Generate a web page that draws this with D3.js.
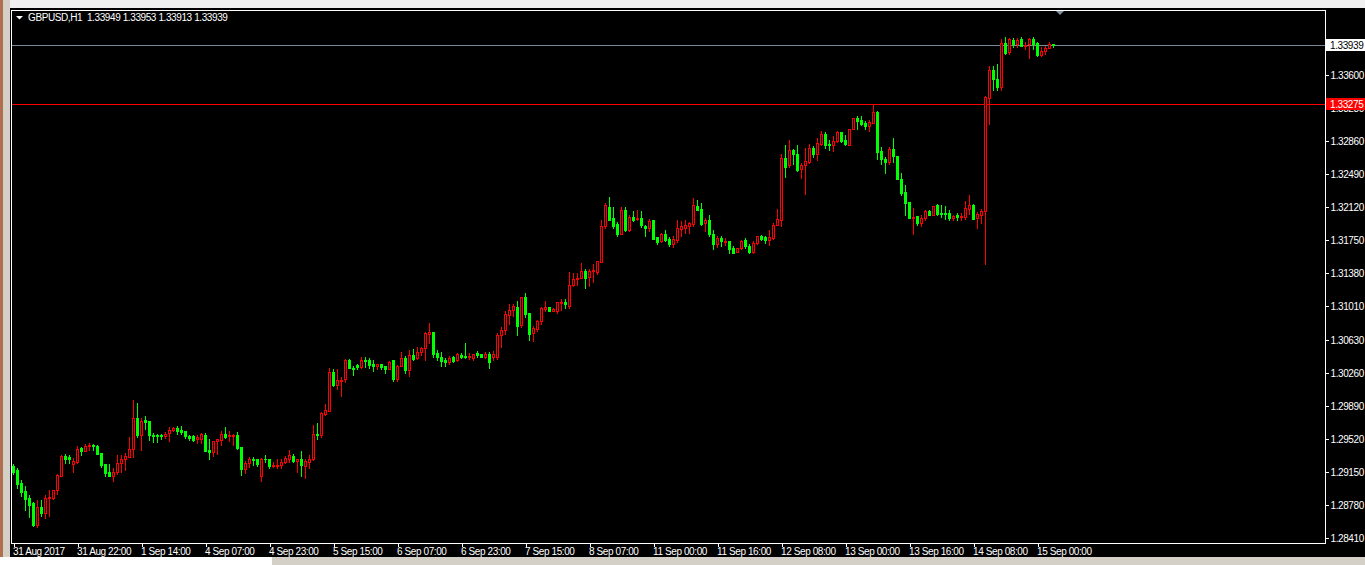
<!DOCTYPE html>
<html><head><meta charset="utf-8">
<script src="https://cdn.jsdelivr.net/npm/d3@7"></script>
<style>
html,body{margin:0;padding:0;background:#000;overflow:hidden;}
svg{display:block;}
text{font-family:"Liberation Sans",Arial,sans-serif;font-size:10px;letter-spacing:-0.4px;}
</style></head><body>
<svg id="c" width="1365" height="565"></svg>
<script>
const symbolTitle = "GBPUSD,H1";
const headerValues = ["1.33949", "1.33953", "1.33913", "1.33939"];

const open = [
1.2922,1.2917,1.2903,1.2894,1.2886,1.2880,1.2856,1.2876,1.2869,1.2886,
1.2886,1.2895,1.2911,1.2933,1.2932,1.2924,1.2926,1.2942,1.2938,1.2944,
1.2945,1.2944,1.2936,1.2924,1.2915,1.2910,1.2915,1.2925,1.2930,1.2932,
1.2941,1.2976,1.2956,1.2973,1.2972,1.2957,1.2956,1.2956,1.2955,1.2959,
1.2962,1.2964,1.2962,1.2961,1.2955,1.2955,1.2952,1.2952,1.2957,1.2940,
1.2937,1.2950,1.2951,1.2958,1.2955,1.2955,1.2956,1.2943,1.2918,1.2925,
1.2930,1.2929,1.2911,1.2930,1.2930,1.2922,1.2922,1.2923,1.2926,1.2930,
1.2933,1.2927,1.2929,1.2922,1.2926,1.2929,1.2958,1.2956,1.2980,1.2983,
1.3027,1.3012,1.3017,1.3019,1.3041,1.3032,1.3035,1.3033,1.3040,1.3040,
1.3036,1.3034,1.3036,1.3034,1.3030,1.3040,1.3019,1.3034,1.3043,1.3029,
1.3046,1.3043,1.3050,1.3054,1.3070,1.3072,1.3048,1.3044,1.3041,1.3038,
1.3044,1.3040,1.3046,1.3045,1.3044,1.3043,1.3048,1.3047,1.3044,1.3047,
1.3044,1.3044,1.3068,1.3074,1.3091,1.3097,1.3100,1.3080,1.3111,1.3093,
1.3071,1.3075,1.3084,1.3098,1.3100,1.3095,1.3096,1.3104,1.3106,1.3101,
1.3125,1.3131,1.3133,1.3140,1.3134,1.3140,1.3139,1.3150,1.3191,1.3212,
1.3200,1.3193,1.3182,1.3209,1.3186,1.3201,1.3199,1.3200,1.3191,1.3189,
1.3197,1.3178,1.3174,1.3182,1.3176,1.3171,1.3175,1.3187,1.3188,1.3191,
1.3193,1.3213,1.3210,1.3194,1.3197,1.3182,1.3171,1.3177,1.3173,1.3174,
1.3166,1.3162,1.3166,1.3175,1.3168,1.3162,1.3172,1.3179,1.3178,1.3175,
1.3177,1.3192,1.3198,1.3267,1.3259,1.3276,1.3272,1.3255,1.3259,1.3262,
1.3278,1.3272,1.3283,1.3294,1.3283,1.3281,1.3286,1.3296,1.3287,1.3282,
1.3300,1.3312,1.3309,1.3306,1.3303,1.3306,1.3318,1.3275,1.3266,1.3263,
1.3277,1.3269,1.3243,1.3229,1.3218,1.3200,1.3202,1.3194,1.3200,1.3208,
1.3203,1.3214,1.3205,1.3205,1.3205,1.3200,1.3203,1.3201,1.3201,1.3210,
1.3214,1.3200,1.3203,1.3207,1.3334,1.3366,1.3356,1.3347,1.3396,1.3386,
1.3399,1.3395,1.3400,1.3392,1.3395,1.3400,1.3396,1.3382,1.3387,1.3390,1.33949
];
const high = [
1.2924,1.2920,1.2906,1.2899,1.2889,1.2881,1.2884,1.2884,1.2889,1.2895,
1.2895,1.2913,1.2934,1.2935,1.2934,1.2931,1.2944,1.2943,1.2946,1.2948,
1.2946,1.2945,1.2936,1.2924,1.2924,1.2919,1.2934,1.2934,1.2936,1.2954,
1.2996,1.2992,1.2976,1.2978,1.2972,1.2959,1.2958,1.2958,1.2960,1.2965,
1.2965,1.2967,1.2966,1.2961,1.2957,1.2956,1.2956,1.2959,1.2959,1.2952,
1.2950,1.2952,1.2961,1.2965,1.2961,1.2958,1.2960,1.2943,1.2927,1.2932,
1.2932,1.2929,1.2931,1.2934,1.2930,1.2926,1.2929,1.2929,1.2933,1.2940,
1.2935,1.2930,1.2939,1.2930,1.2934,1.2968,1.2970,1.2982,1.2991,1.3032,
1.3031,1.3031,1.3021,1.3042,1.3042,1.3034,1.3036,1.3044,1.3044,1.3043,
1.3040,1.3036,1.3036,1.3034,1.3039,1.3041,1.3035,1.3049,1.3045,1.3052,
1.3053,1.3055,1.3055,1.3072,1.3082,1.3072,1.3052,1.3049,1.3043,1.3045,
1.3045,1.3048,1.3048,1.3060,1.3048,1.3047,1.3051,1.3047,1.3049,1.3049,
1.3051,1.3071,1.3078,1.3096,1.3103,1.3103,1.3107,1.3111,1.3116,1.3093,
1.3079,1.3085,1.3100,1.3107,1.3100,1.3099,1.3106,1.3109,1.3109,1.3139,
1.3138,1.3138,1.3149,1.3143,1.3143,1.3148,1.3152,1.3198,1.3216,1.3223,
1.3212,1.3195,1.3212,1.3212,1.3203,1.3207,1.3209,1.3208,1.3192,1.3199,
1.3197,1.3178,1.3183,1.3186,1.3178,1.3179,1.3197,1.3196,1.3198,1.3195,
1.3222,1.3220,1.3217,1.3200,1.3203,1.3186,1.3180,1.3180,1.3177,1.3174,
1.3168,1.3166,1.3175,1.3177,1.3171,1.3174,1.3180,1.3181,1.3180,1.3186,
1.3194,1.3210,1.3272,1.3282,1.3287,1.3277,1.3282,1.3261,1.3278,1.3283,
1.3280,1.3289,1.3297,1.3296,1.3287,1.3292,1.3297,1.3296,1.3293,1.3300,
1.3312,1.3314,1.3314,1.3308,1.3309,1.3327,1.3320,1.3279,1.3268,1.3279,
1.3289,1.3269,1.3250,1.3237,1.3218,1.3211,1.3202,1.3203,1.3209,1.3209,
1.3213,1.3215,1.3214,1.3213,1.3209,1.3203,1.3205,1.3205,1.3219,1.3225,
1.3215,1.3206,1.3210,1.3337,1.3370,1.3370,1.3372,1.3400,1.3403,1.3402,
1.3402,1.3402,1.3403,1.3397,1.3401,1.3403,1.3397,1.3391,1.3392,1.3397,1.33953
];
const low = [
1.2913,1.2897,1.2888,1.2872,1.2865,1.2855,1.2853,1.2866,1.2863,1.2866,
1.2885,1.2890,1.2911,1.2925,1.2925,1.2915,1.2925,1.2934,1.2938,1.2940,
1.2940,1.2935,1.2921,1.2911,1.2910,1.2905,1.2913,1.2915,1.2917,1.2932,
1.2932,1.2954,1.2940,1.2963,1.2951,1.2949,1.2949,1.2952,1.2953,1.2950,
1.2961,1.2958,1.2958,1.2953,1.2951,1.2950,1.2948,1.2947,1.2939,1.2929,
1.2933,1.2935,1.2945,1.2953,1.2950,1.2945,1.2941,1.2912,1.2914,1.2921,
1.2923,1.2922,1.2905,1.2926,1.2920,1.2921,1.2920,1.2920,1.2925,1.2926,
1.2926,1.2915,1.2911,1.2908,1.2920,1.2928,1.2952,1.2954,1.2979,1.2983,
1.3011,1.3008,1.3000,1.3016,1.3032,1.3024,1.3030,1.3032,1.3033,1.3032,
1.3028,1.3030,1.3030,1.3026,1.3030,1.3017,1.3017,1.3034,1.3026,1.3023,
1.3040,1.3042,1.3046,1.3040,1.3060,1.3044,1.3040,1.3034,1.3034,1.3036,
1.3038,1.3039,1.3043,1.3043,1.3042,1.3041,1.3044,1.3044,1.3043,1.3032,
1.3040,1.3042,1.3055,1.3070,1.3081,1.3090,1.3069,1.3077,1.3089,1.3063,
1.3062,1.3073,1.3081,1.3096,1.3095,1.3095,1.3093,1.3097,1.3099,1.3099,
1.3124,1.3125,1.3133,1.3121,1.3124,1.3128,1.3137,1.3150,1.3189,1.3197,
1.3189,1.3180,1.3182,1.3185,1.3185,1.3196,1.3197,1.3190,1.3180,1.3185,
1.3176,1.3171,1.3173,1.3174,1.3168,1.3167,1.3173,1.3179,1.3183,1.3183,
1.3191,1.3209,1.3192,1.3185,1.3180,1.3165,1.3167,1.3168,1.3169,1.3160,
1.3160,1.3162,1.3165,1.3166,1.3160,1.3161,1.3171,1.3175,1.3172,1.3169,
1.3176,1.3192,1.3191,1.3246,1.3257,1.3260,1.3252,1.3245,1.3227,1.3261,
1.3268,1.3265,1.3282,1.3278,1.3276,1.3275,1.3285,1.3285,1.3281,1.3282,
1.3299,1.3299,1.3304,1.3300,1.3297,1.3306,1.3266,1.3260,1.3250,1.3260,
1.3262,1.3243,1.3226,1.3203,1.3200,1.3182,1.3192,1.3191,1.3198,1.3203,
1.3203,1.3203,1.3201,1.3199,1.3198,1.3198,1.3198,1.3197,1.3199,1.3204,
1.3199,1.3189,1.3194,1.3148,1.3305,1.3343,1.3343,1.3343,1.3384,1.3384,
1.3391,1.3391,1.3392,1.3389,1.3379,1.3389,1.3381,1.3381,1.3384,1.3390,1.33913
];
const close = [
1.2915,1.2902,1.2893,1.2885,1.2878,1.2856,1.2876,1.2869,1.2886,1.2887,
1.2895,1.2912,1.2933,1.2930,1.2929,1.2927,1.2941,1.2939,1.2944,1.2945,
1.2944,1.2935,1.2923,1.2914,1.2910,1.2915,1.2925,1.2930,1.2933,1.2941,
1.2976,1.2957,1.2972,1.2971,1.2956,1.2955,1.2955,1.2955,1.2958,1.2962,
1.2964,1.2961,1.2960,1.2955,1.2953,1.2951,1.2954,1.2958,1.2939,1.2937,
1.2950,1.2952,1.2958,1.2954,1.2956,1.2957,1.2942,1.2918,1.2925,1.2930,
1.2928,1.2924,1.2930,1.2929,1.2922,1.2923,1.2923,1.2926,1.2931,1.2934,
1.2927,1.2929,1.2923,1.2927,1.2930,1.2958,1.2956,1.2981,1.2985,1.3027,
1.3012,1.3018,1.3018,1.3041,1.3032,1.3031,1.3033,1.3040,1.3039,1.3035,
1.3034,1.3036,1.3033,1.3030,1.3038,1.3019,1.3034,1.3043,1.3029,1.3046,
1.3042,1.3050,1.3054,1.3071,1.3072,1.3047,1.3044,1.3039,1.3038,1.3043,
1.3039,1.3047,1.3044,1.3044,1.3045,1.3047,1.3046,1.3044,1.3047,1.3038,
1.3047,1.3069,1.3074,1.3092,1.3097,1.3101,1.3079,1.3111,1.3092,1.3070,
1.3076,1.3084,1.3099,1.3100,1.3096,1.3098,1.3105,1.3105,1.3103,1.3125,
1.3131,1.3133,1.3140,1.3133,1.3140,1.3141,1.3151,1.3191,1.3214,1.3198,
1.3191,1.3182,1.3209,1.3186,1.3201,1.3198,1.3200,1.3192,1.3189,1.3196,
1.3176,1.3173,1.3182,1.3175,1.3171,1.3176,1.3188,1.3191,1.3192,1.3194,
1.3214,1.3209,1.3193,1.3198,1.3182,1.3171,1.3177,1.3174,1.3174,1.3165,
1.3161,1.3166,1.3174,1.3168,1.3162,1.3172,1.3179,1.3176,1.3175,1.3178,
1.3192,1.3199,1.3267,1.3257,1.3276,1.3271,1.3254,1.3259,1.3264,1.3278,
1.3272,1.3284,1.3294,1.3281,1.3281,1.3286,1.3296,1.3286,1.3283,1.3300,
1.3312,1.3308,1.3305,1.3303,1.3307,1.3318,1.3274,1.3266,1.3262,1.3277,
1.3269,1.3243,1.3228,1.3217,1.3200,1.3201,1.3194,1.3200,1.3208,1.3203,
1.3213,1.3204,1.3204,1.3204,1.3200,1.3202,1.3201,1.3202,1.3211,1.3214,
1.3199,1.3204,1.3208,1.3335,1.3366,1.3355,1.3347,1.3396,1.3385,1.3400,
1.3395,1.3399,1.3392,1.3394,1.3400,1.3395,1.3382,1.3387,1.3390,1.3395,1.33939
];

const timeLabels = ["31 Aug 2017","31 Aug 22:00","1 Sep 14:00","4 Sep 07:00","4 Sep 23:00",
  "5 Sep 15:00","6 Sep 07:00","6 Sep 23:00","7 Sep 15:00","8 Sep 07:00","11 Sep 00:00",
  "11 Sep 16:00","12 Sep 08:00","13 Sep 00:00","13 Sep 16:00","14 Sep 08:00","15 Sep 00:00"];
const timeLabelBars = [0,16,32,48,64,80,96,112,128,144,160,176,192,208,224,240,256];
const priceTicks = [1.33600,1.33230,1.32860,1.32490,1.32120,1.31750,1.31380,1.31010,
  1.30630,1.30260,1.29890,1.29520,1.29150,1.28780,1.28410];
const bidPrice = 1.33939;
const levelPrice = 1.33275;

const svg = d3.select("#c");
const W = 1365, H = 565;
const plot = {left: 11, top: 10, right: 1325, bottom: 543};

// window chrome
svg.append("rect").attr("x",0).attr("y",0).attr("width",W).attr("height",H).attr("fill","#000");
svg.append("rect").attr("x",0).attr("y",0).attr("width",W).attr("height",8).attr("fill","#f0f0f0");
svg.append("rect").attr("x",0).attr("y",0).attr("width",10).attr("height",H).attr("fill","#d4d0c8");
svg.append("rect").attr("x",0).attr("y",0).attr("width",3).attr("height",H).attr("fill","#b07050");
svg.append("rect").attr("x",0).attr("y",557).attr("width",W).attr("height",8).attr("fill","#d4d0c8");
svg.append("rect").attr("x",0).attr("y",557).attr("width",272).attr("height",8).attr("fill","#ffffff");

const N = close.length;
const x = d3.scaleLinear().domain([0, N - 1]).range([13, 13 + 4 * (N - 1)]);
const y = d3.scaleLinear().domain([1.28410, 1.33600]).range([538, 75]);

const g = svg.append("g").attr("shape-rendering","crispEdges");

// horizontal lines
g.append("line").attr("x1",plot.left).attr("x2",plot.right).attr("y1",Math.round(y(levelPrice))+0.5)
  .attr("y2",Math.round(y(levelPrice))+0.5).attr("stroke","#ff0000");
g.append("line").attr("x1",plot.left).attr("x2",plot.right).attr("y1",Math.round(y(bidPrice))+0.5)
  .attr("y2",Math.round(y(bidPrice))+0.5).attr("stroke","#778899");

const bars = d3.range(N).map(i => ({i, o: open[i], h: high[i], l: low[i], c: close[i]}));
const cg = g.append("g");
bars.forEach(d => {
  const px = Math.round(x(d.i));
  const up = d.c >= d.o;
  const col = up ? "#ff0000" : "#00ff00";
  const yh = Math.round(y(d.h)), yl = Math.round(y(d.l));
  const yo = Math.round(y(d.o)), yc = Math.round(y(d.c));
  cg.append("rect").attr("x",px).attr("y",yh).attr("width",1).attr("height",Math.max(1,yl-yh+1)).attr("fill",col);
  if (up) {
    const t = yc, b = yo;
    if (b - t < 1) {
      cg.append("rect").attr("x",px-1).attr("y",t).attr("width",3).attr("height",1).attr("fill",col);
    } else {
      cg.append("rect").attr("x",px-0.5).attr("y",t+0.5).attr("width",2).attr("height",b-t)
        .attr("fill","#000").attr("stroke",col).attr("stroke-width",1);
    }
  } else {
    cg.append("rect").attr("x",px-1).attr("y",yo).attr("width",3).attr("height",Math.max(1,yc-yo+1)).attr("fill",col);
  }
});

// frame
g.append("rect").attr("x",plot.left+0.5).attr("y",plot.top+0.5)
  .attr("width",plot.right-plot.left).attr("height",plot.bottom-plot.top)
  .attr("fill","none").attr("stroke","#ffffff");

// right price axis
const ya = svg.append("g").attr("transform",`translate(${plot.right+0.5},0)`)
  .call(d3.axisRight(y).tickValues(priceTicks).tickFormat(d3.format(".5f")).tickSize(3).tickPadding(2));
ya.select(".domain").remove();
ya.selectAll("line").attr("stroke","#fff").attr("shape-rendering","crispEdges");
ya.selectAll("text").attr("fill","#fff").style("font-family","Liberation Sans, Arial, sans-serif").style("font-size","10px");

// price boxes
function priceBox(p, bg, fg) {
  const yy = Math.round(y(p));
  svg.append("rect").attr("x",plot.right+1).attr("y",yy-6).attr("width",W-plot.right-1).attr("height",12).attr("fill",bg);
  svg.append("text").attr("x",plot.right+5).attr("y",yy+3.5).attr("fill",fg).text(d3.format(".5f")(p));
}
priceBox(levelPrice, "#ff0000", "#ffffff");
priceBox(bidPrice, "#ffffff", "#000000");

// bottom time axis
const xa = svg.append("g").attr("transform",`translate(0.5,${plot.bottom+0.5})`)
  .call(d3.axisBottom(x).tickValues(timeLabelBars).tickFormat((d,i)=>timeLabels[i]).tickSize(3).tickPadding(1));
xa.select(".domain").remove();
xa.selectAll("line").attr("stroke","#fff").attr("shape-rendering","crispEdges");
xa.selectAll("text").attr("fill","#fff").attr("text-anchor","start").attr("dx","-1")
  .style("font-family","Liberation Sans, Arial, sans-serif").style("font-size","10px");

// header
svg.append("path").attr("d","M16,16 L23,16 L19.5,19.5 Z").attr("fill","#fff");
svg.append("text").attr("x",28).attr("y",21).attr("fill","#fff").attr("xml:space","preserve")
  .text(symbolTitle + "  " + headerValues.join(" "));

// chart shift marker
svg.append("path").attr("d","M1056,11 L1064,11 L1060,15 Z").attr("fill","#8090a0");
</script>
</body></html>
